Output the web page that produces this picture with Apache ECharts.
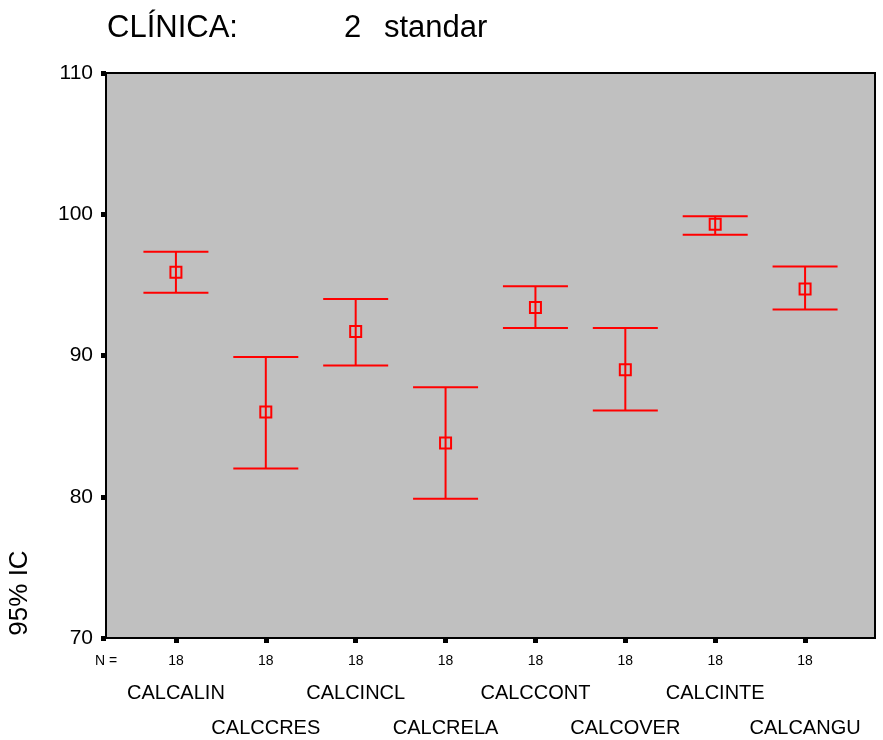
<!DOCTYPE html>
<html>
<head>
<meta charset="utf-8">
<script src="https://cdn.jsdelivr.net/npm/echarts@6/dist/echarts.min.js"></script>
<style>html,body{margin:0;padding:0;background:#fff}#c{width:883px;height:740px}</style>
</head>
<body>
<div id="c"></div>
<script>
const categories = ['CALCALIN','CALCCRES','CALCINCL','CALCRELA','CALCCONT','CALCOVER','CALCINTE','CALCANGU'];
const nLabels = ['18','18','18','18','18','18','18','18'];
const means = [95.9, 86.0, 91.7, 83.8, 93.4, 89.0, 99.3, 94.7];
const lower = [94.45, 82.0, 89.3, 79.85, 91.95, 86.1, 98.55, 93.25];
const upper = [97.35, 89.9, 94.0, 87.75, 94.9, 91.95, 99.85, 96.3];
const yTicks = [70, 80, 90, 100, 110];

const FONT = '"Liberation Sans", Arial, sans-serif';
const idx = categories.map((c, i) => i);
const pad = 0.778;

const chart = echarts.init(document.getElementById('c'), null, {renderer: 'canvas'});
const baseX = {
  type: 'value', min: -pad, max: categories.length - 1 + pad, position: 'bottom',
  splitLine: {show: false}
};
chart.setOption({
  animation: false,
  backgroundColor: '#ffffff',
  grid: {left: 106, right: 8, top: 73, bottom: 102, show: true,
         backgroundColor: '#c0c0c0', borderColor: '#000', borderWidth: 2},
  graphic: [
    {type: 'text', left: 107, top: 13, style: {text: 'CLÍNICA:', font: '31px ' + FONT, fill: '#000'}},
    {type: 'text', left: 344, top: 13, style: {text: '2', font: '31px ' + FONT, fill: '#000'}},
    {type: 'text', left: 384, top: 13, style: {text: 'standar', font: '31px ' + FONT, fill: '#000'}},
    {type: 'text', x: 20, y: 593, rotation: Math.PI / 2,
     style: {text: '95% IC', font: '26px ' + FONT, fill: '#000', textAlign: 'center', textVerticalAlign: 'middle'}}
  ],
  xAxis: [
    Object.assign({}, baseX, {
      axisLine: {show: true, onZero: false, lineStyle: {color: '#000', width: 2}},
      axisTick: {show: true, customValues: idx, length: 5, lineStyle: {color: '#000', width: 5}},
      axisLabel: {show: true, customValues: [-pad].concat(idx), margin: 16, fontSize: 14, fontFamily: FONT, color: '#000',
        formatter: v => v < 0 ? 'N =' : nLabels[Math.round(v)]}
    }),
    Object.assign({}, baseX, {
      axisLine: {show: false, onZero: false}, axisTick: {show: false},
      axisLabel: {show: true, customValues: idx.filter(i => i % 2 === 0), margin: 45, fontSize: 20, fontFamily: FONT, color: '#000',
        formatter: v => categories[Math.round(v)]}
    }),
    Object.assign({}, baseX, {
      axisLine: {show: false, onZero: false}, axisTick: {show: false},
      axisLabel: {show: true, customValues: idx.filter(i => i % 2 === 1), margin: 80, fontSize: 20, fontFamily: FONT, color: '#000',
        formatter: v => categories[Math.round(v)]}
    })
  ],
  yAxis: {
    type: 'value', min: yTicks[0], max: yTicks[yTicks.length - 1], interval: 10,
    splitLine: {show: false},
    axisLine: {show: true, onZero: false, lineStyle: {color: '#000', width: 2}},
    axisTick: {show: true, length: 5, lineStyle: {color: '#000', width: 5}},
    axisLabel: {fontSize: 21, fontFamily: FONT, color: '#000', margin: 13}
  },
  series: [{
    type: 'custom',
    xAxisIndex: 0,
    data: idx.map(i => [i, means[i], lower[i], upper[i]]),
    renderItem: function (params, api) {
      const x = api.value(0);
      const pm = api.coord([x, api.value(1)]);
      const pl = api.coord([x, api.value(2)]);
      const pu = api.coord([x, api.value(3)]);
      const hw = 32.5, bs = 11;
      const st = {stroke: '#ff0000', lineWidth: 2, fill: null};
      return {
        type: 'group',
        children: [
          {type: 'line', shape: {x1: pm[0], y1: pu[1], x2: pm[0], y2: pl[1]}, style: st},
          {type: 'line', shape: {x1: pm[0] - hw, y1: pu[1], x2: pm[0] + hw, y2: pu[1]}, style: st},
          {type: 'line', shape: {x1: pm[0] - hw, y1: pl[1], x2: pm[0] + hw, y2: pl[1]}, style: st},
          {type: 'rect', shape: {x: pm[0] - bs / 2, y: pm[1] - bs / 2, width: bs, height: bs}, style: {stroke: '#ff0000', lineWidth: 2, fill: 'transparent'}}
        ]
      };
    }
  }]
});
</script>
</body>
</html>
